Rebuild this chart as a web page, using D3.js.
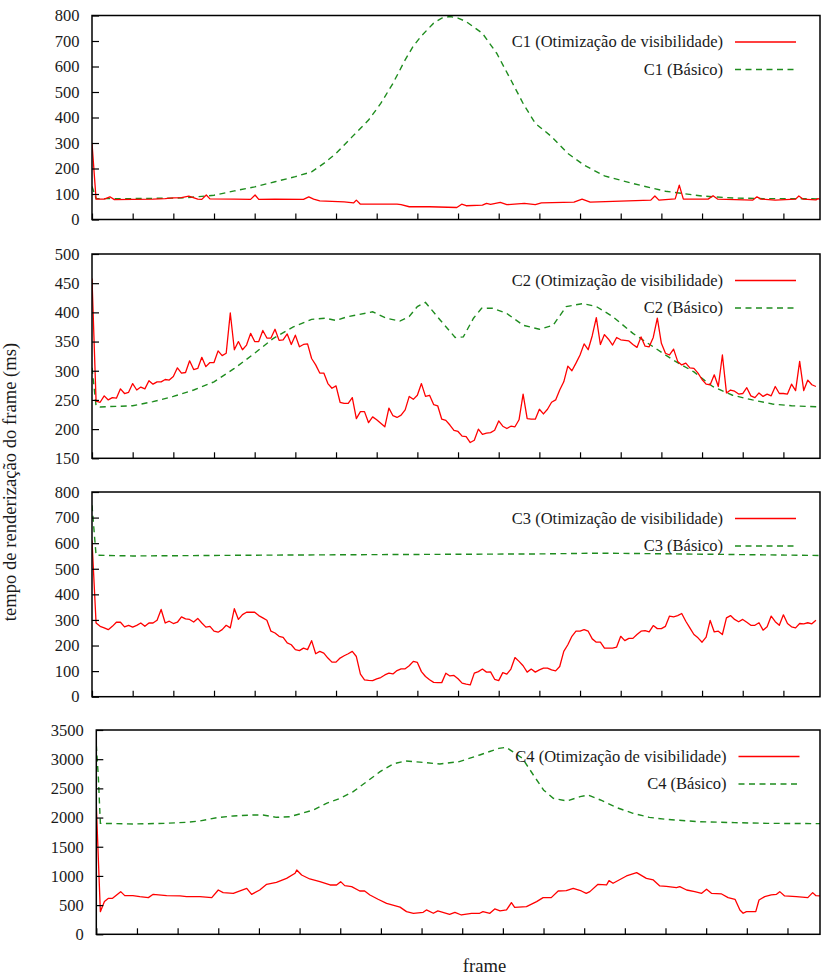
<!DOCTYPE html>
<html>
<head>
<meta charset="utf-8">
<script src="https://cdn.jsdelivr.net/npm/d3@7"></script>
<style>
  body { margin: 0; background: #fff; }
  svg { display: block; }
</style>
</head>
<body>
<div id="chart"></div>
<script>
// --- data: [frame, ms] ---
const c1Vis = [[0,300],[1,80],[3,80],[4.4,89],[5.5,78],[10,79],[15,80],[18,82],[20,85],[22,86],[23.8,92],[26,80],[27,79],[28.1,96],[29,81],[35,80],[39,79],[40.1,96],[41,79],[45,80],[52,79],[53.3,89],[54.5,80],[56,73],[62,69],[64.3,65],[65,76],[66,60],[75,60],[76,58],[78,50],[83,50],[89.7,47],[90.9,60],[92,54],[96,56],[97,63],[98,59],[100.4,67],[102,58],[106.3,63],[109,58],[110.5,65],[118.5,68],[120.5,80],[122.5,68],[137.4,76],[138.4,92],[139.4,76],[143.4,81],[144.4,135],[145.4,80],[151.5,80],[152.7,93],[153.8,80],[162.5,76],[163.5,89],[164.5,80],[168,76],[173,80],[173.8,92],[174.8,80],[178,77],[178.5,82],[179,79]];
const c1Basic = [[0,130],[1,82],[10,82],[20,84],[23,85],[30,95],[35,112],[40,128],[45,148],[50,168],[54,187],[57,220],[60,259],[64,325],[68,390],[71,455],[74,534],[77,626],[79,680],[81,720],[84,770],[86,790],[88,796],[90,790],[92,776],[96,730],[99.5,652],[103,547],[106,455],[109,377],[113,325],[117,259],[121,213],[126,171],[133,141],[141,111],[150,92],[158,84],[165,82],[179,81]];

const c2Vis = [458,248,246,257,250,254,253,269,261,263,278,267,272,269,283,277,281,281,285,284,
  290,305,296,297,317,302,304,323,307,314,314,334,326,330,399,336,350,336,344,364,
  350,350,369,356,356,371,352,353,363,345,361,341,345,346,321,310,296,296,278,270,
  274,246,244,244,254,218,230,230,211,221,216,210,204,236,223,220,224,233,256,251,
  258,278,256,258,242,240,217,215,207,198,196,188,187,177,181,200,191,193,194,198,
  214,205,201,205,204,216,260,218,217,217,234,226,234,246,250,267,281,308,300,313,
  327,346,336,360,391,345,362,354,344,357,353,352,351,345,340,358,342,341,357,390,
  347,330,327,337,316,310,313,305,304,296,285,277,276,293,273,327,262,267,265,260,
  261,271,257,254,262,256,260,257,273,261,261,260,277,266,316,266,284,276,273];
const c2Basic = [[0,305],[1,240],[2,238],[10,240],[15,247],[20,256],[25,267],[30,281],[35,304],[40,330],[44.5,355],[49.5,375],[54,388],[57.5,390],[60,386],[62.5,392],[69,401],[72.4,390],[75.7,385],[78,393],[80,410],[82,417],[85.6,387],[89.3,357],[91.3,358],[93.8,390],[95.8,407],[98.6,407],[102,398],[106,378],[110,371],[113.4,378],[116.6,410],[120.7,415],[124,410],[128,393],[133,364],[138,341],[143,318],[148,298],[152.6,273],[157.5,258],[162.4,250],[167.3,243],[172,240],[179,238]];

const c3Vis = [610,288,275,269,262,275,291,291,273,279,272,279,288,275,288,288,299,341,288,295,
  286,291,312,304,302,292,306,288,272,275,256,252,262,279,269,344,302,321,330,330,
  330,317,308,299,256,249,236,232,210,203,184,180,190,184,219,168,177,170,151,135,
  135,151,160,168,177,157,88,66,64,63,70,75,85,92,89,102,109,109,121,138,
  134,98,79,66,56,55,55,92,81,83,70,53,49,46,92,98,108,96,97,68,
  63,94,88,108,153,138,121,96,108,96,105,112,112,105,101,118,177,203,236,256,
  256,262,256,226,213,213,190,190,190,194,236,219,228,228,243,256,258,253,278,266,
  266,275,315,312,317,325,295,269,243,230,213,233,298,253,256,243,308,317,302,293,
  302,291,279,279,289,260,273,315,293,279,320,286,273,269,286,285,289,285,299];
const c3Basic = [[0,748],[1,553],[10,550],[40,553],[80,556],[110,558],[125,561],[150,557],[179,552]];

const c4Vis = [[0,2215],[1,388],[2,560],[3,617],[4,617],[6,731],[7,662],[9,662],[10.7,645],[12.8,628],[14,685],[17.3,662],[20.6,657],[22.2,645],[25.5,645],[28.4,628],[30,759],[31.2,714],[33.7,702],[37,788],[38.2,685],[40.2,759],[41.9,856],[44.3,891],[46.8,959],[48.9,1045],[49.3,1102],[50.5,1016],[52.5,948],[55,902],[57.5,845],[59.1,845],[60.1,902],[61.1,834],[62.8,817],[64.8,742],[66,742],[67.3,674],[69.3,600],[71.4,531],[74.7,465],[76.3,388],[78,360],[80.4,377],[81.2,417],[82.9,360],[84,400],[86.9,343],[88.2,377],[89.8,331],[92.3,360],[94.3,360],[95.1,388],[96.8,360],[98,434],[99.3,400],[100.9,417],[102.1,542],[102.9,462],[105.8,474],[108.3,560],[109.9,628],[111.9,628],[113.6,742],[115.6,748],[117.3,788],[119.3,742],[120.5,702],[121.4,731],[123.4,856],[125.5,845],[126.1,919],[127.1,874],[130.4,999],[132.9,1056],[135.3,959],[137,931],[138.6,828],[140.2,822],[142.7,799],[143.5,817],[145.2,759],[147.2,731],[148.9,702],[150.1,771],[151.3,702],[153.8,691],[155.4,628],[157.1,600],[158.3,417],[159.1,360],[159.9,388],[162.2,388],[163,588],[164.4,645],[166,674],[167.3,685],[168.1,731],[169.3,657],[172.2,645],[175,628],[176.2,714],[177,662],[178,657]];
const c4Basic = [[0,3243],[0.5,2700],[1,1901],[9,1890],[17,1901],[22,1918],[25.5,1941],[29.6,1998],[33.7,2027],[38.6,2044],[41,2044],[44.3,2004],[47.6,2015],[50,2061],[53.4,2130],[56.6,2244],[60,2330],[63.2,2444],[66.5,2615],[69.8,2786],[73,2918],[76,2969],[79.6,2950],[84.5,2918],[89.3,2958],[94.3,3072],[99,3186],[100.8,3203],[102.4,3129],[104.8,3015],[107.5,2729],[110,2472],[112.4,2330],[115.7,2284],[119,2358],[121,2387],[124,2301],[128,2170],[132,2073],[136,2004],[140,1970],[148,1930],[157,1913],[165,1901],[178,1896]];

const caseNames = ["C1", "C2", "C3", "C4"];
const yMin = [0, 150, 0, 0];
const yMax = [800, 500, 800, 3500];
const yStep = [100, 50, 100, 500];
const frameEnd = [179, 179, 179, 178];
const frameTickStep = 10;

// turn per-frame lists into [frame, value] pairs
const asPairs = arr => arr.map((v, i) => [i, v]);
const visSeries = [c1Vis, asPairs(c2Vis), asPairs(c3Vis), c4Vis];
const basicSeries = [c1Basic, c2Basic, c3Basic, c4Basic];

// pick the first Times-like face that is actually installed
function pickFont(candidates) {
    const ctx = document.createElement("canvas").getContext("2d");
    const probe = "tempo de renderização 0123456789 Otimização";
    ctx.font = "40px monospace";
    const base = ctx.measureText(probe).width;
    for (const c of candidates) {
        ctx.font = `40px "${c}", monospace`;
        if (Math.abs(ctx.measureText(probe).width - base) > 0.5) return `"${c}"`;
    }
    return "serif";
}
const FONT = pickFont(["Liberation Serif", "Tinos", "Times New Roman", "Nimbus Roman", "Nimbus Roman No9 L", "DejaVu Serif"]) + ", serif";

// --- layout ---
const W = 821, H = 976;
const boxes = [
    { left: 92,   top: 15.5, bottom: 219.5 },
    { left: 92,   top: 254,  bottom: 458.3 },
    { left: 92,   top: 492,  bottom: 696.7 },
    { left: 96.3, top: 730,  bottom: 934.3 }
];
const right = 820;
const RED = "#ff0000", GREEN = "#1e8c1e", INK = "#1a1a1a";

const svg = d3.select("#chart").append("svg")
    .attr("width", W)
    .attr("height", H)
    .style("font-family", FONT);

boxes.forEach((b, i) => {
    const x = d3.scaleLinear().domain([0, frameEnd[i]]).range([b.left, right]);
    const y = d3.scaleLinear().domain([yMin[i], yMax[i]]).range([b.bottom, b.top]);

    const g = svg.append("g");

    g.append("clipPath").attr("id", "clip" + i)
        .append("rect")
        .attr("x", b.left).attr("y", b.top)
        .attr("width", right - b.left).attr("height", b.bottom - b.top);

    const line = d3.line().x(d => x(d[0])).y(d => y(d[1]));

    const plot = g.append("g").attr("clip-path", `url(#clip${i})`);

    plot.append("path")
        .datum(basicSeries[i])
        .attr("fill", "none")
        .attr("stroke", GREEN)
        .attr("stroke-width", 1.4)
        .attr("stroke-dasharray", "6,4.5")
        .attr("d", line);

    plot.append("path")
        .datum(visSeries[i])
        .attr("fill", "none")
        .attr("stroke", RED)
        .attr("stroke-width", 1.3)
        .attr("stroke-linejoin", "round")
        .attr("d", line);

    // y axis, ticks pointing inward
    const yAxis = g.append("g")
        .attr("transform", `translate(${b.left},0)`)
        .call(d3.axisLeft(y)
            .tickValues(d3.range(yMin[i], yMax[i] + 1, yStep[i]))
            .tickFormat(d3.format("d"))
            .tickSize(-7)
            .tickPadding(12.5));
    yAxis.attr("font-family", null).attr("font-size", null);
    yAxis.select(".domain").remove();
    yAxis.selectAll("line").attr("stroke", "#000").attr("stroke-width", 1.2);
    yAxis.selectAll("text")
        .style("font-family", FONT)
        .style("font-size", "16.5px")
        .attr("fill", INK);

    // x axis: ticks only, no labels
    const xAxis = g.append("g")
        .attr("transform", `translate(0,${b.bottom})`)
        .call(d3.axisBottom(x)
            .tickValues(d3.range(0, frameEnd[i], frameTickStep))
            .tickSize(-6)
            .tickFormat(""));
    xAxis.select(".domain").remove();
    xAxis.selectAll("line").attr("stroke", "#000").attr("stroke-width", 1.2);

    // frame border
    g.append("rect")
        .attr("x", b.left).attr("y", b.top)
        .attr("width", right - b.left).attr("height", b.bottom - b.top)
        .attr("fill", "none")
        .attr("stroke", "#000")
        .attr("stroke-width", 1.5);

    // legend
    const shift = i === 3 ? 3.5 : 0;
    const legend = [
        { label: `${caseNames[i]} (Otimização de visibilidade)`, color: RED, dash: null, dy: 26.5 },
        { label: `${caseNames[i]} (Básico)`, color: GREEN, dash: "6,4.5", dy: 54 }
    ];
    legend.forEach(l => {
        g.append("text")
            .attr("x", 723 + shift)
            .attr("y", b.top + l.dy)
            .attr("dy", "0.33em")
            .attr("text-anchor", "end")
            .attr("fill", INK)
            .style("font-size", "16.5px")
            .text(l.label);
        g.append("line")
            .attr("x1", 735 + shift).attr("x2", 796 + shift)
            .attr("y1", b.top + l.dy).attr("y2", b.top + l.dy)
            .attr("stroke", l.color)
            .attr("stroke-width", l.dash ? 1.4 : 1.3)
            .attr("stroke-dasharray", l.dash);
    });
});

// axis titles
svg.append("text")
    .attr("transform", "translate(16,482) rotate(-90)")
    .attr("text-anchor", "middle")
    .attr("fill", INK)
    .style("font-size", "18.6px")
    .text("tempo de renderização do frame (ms)");

svg.append("text")
    .attr("x", 484.5)
    .attr("y", 972)
    .attr("text-anchor", "middle")
    .attr("fill", INK)
    .style("font-size", "18.6px")
    .text("frame");
</script>
</body>
</html>
